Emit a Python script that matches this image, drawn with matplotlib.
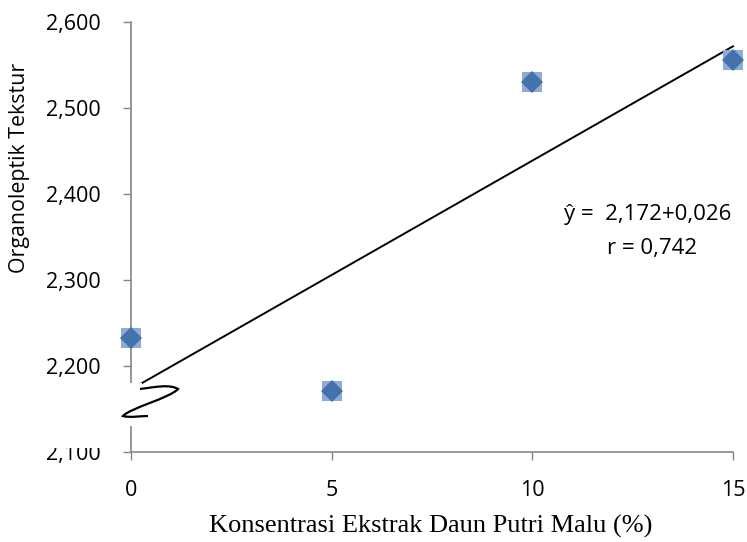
import matplotlib
matplotlib.use("Agg")
import matplotlib.pyplot as plt
import numpy as np
from matplotlib.path import Path
from matplotlib.patches import PathPatch, Rectangle
from matplotlib.transforms import Affine2D

# Data
konsentrasi = [0, 5, 10, 15]
tekstur = [2.232, 2.171, 2.530, 2.555]
yticks = [2.1, 2.2, 2.3, 2.4, 2.5, 2.6]
ytick_labels = ["2,100", "2,200", "2,300", "2,400", "2,500", "2,600"]
xticks = [0, 5, 10, 15]
eq_text = "ŷ =  2,172+0,026"
r_text = "r = 0,742"
xlabel = "Konsentrasi Ekstrak Daun Putri Malu (%)"
ylabel = "Organoleptik Tekstur"

W, H = 747, 542
fig = plt.figure(figsize=(W / 100, H / 100), dpi=100)
ax = fig.add_axes([131 / W, 1 - 452 / H, (733 - 131) / W, (452 - 21.5) / H])

sans = ["Open Sans", "DejaVu Sans"]
serif = ["Liberation Serif", "DejaVu Serif"]

ax.set_xlim(0, 15)
ax.set_ylim(2.1, 2.6)
ax.set_xticks(xticks)
ax.set_xticklabels([str(v) for v in xticks], fontfamily=sans, fontsize=15.5)
ax.set_yticks(yticks)
ax.set_yticklabels(ytick_labels, fontfamily=sans, fontsize=15.5)
ax.tick_params(axis="y", direction="out", length=6, width=1, color="#868686", pad=16)
ax.tick_params(axis="x", direction="out", length=6, width=1, color="#868686", pad=14)

for s in ["top", "right"]:
    ax.spines[s].set_visible(False)
for s in ["left", "bottom"]:
    ax.spines[s].set_color("#868686")
    ax.spines[s].set_linewidth(1.2)

# Trendline (least squares)
slope, intercept = np.polyfit(konsentrasi, tekstur, 1)
xl = np.array([0, 15])
ax.plot(xl, intercept + slope * xl, color="black", lw=1.4, zorder=3, clip_on=False)

# Markers
ax.plot(konsentrasi, tekstur, linestyle="none", marker="s", markersize=14.5,
        color="#8EAAD6", markeredgewidth=0, zorder=4, clip_on=False)
ax.plot(konsentrasi, tekstur, linestyle="none", marker="D", markersize=11,
        color="#4472AA", markeredgewidth=0, zorder=5, clip_on=False)

# Axis titles (pixel positions of the reference)
fig.text(431 / W, 1 - 526 / H, xlabel, fontfamily=serif, fontsize=19,
         ha="center", va="center")
fig.text(20 / W, 1 - 168 / H, ylabel, fontfamily=sans, fontsize=15.4,
         rotation=90, ha="center", va="center")

ax.text(12.88, 2.376, eq_text, fontsize=16, fontfamily=sans, ha="center", va="center")
ax.text(12.98, 2.336, r_text, fontsize=16, fontfamily=sans, ha="center", va="center")

# Axis break decoration (pixel coordinates of the figure)
pix = Affine2D().scale(1 / W, -1 / H).translate(0, 1) + fig.transFigure
fig.patches.append(Rectangle((118, 383), 24, 43, transform=pix, facecolor="white",
                             edgecolor="none", zorder=10))
verts = [(140, 389), (155, 387), (170, 384), (178, 389),
         (170, 398), (130, 408), (123, 416),
         (130, 418), (140, 416), (148, 416)]
codes = [Path.MOVETO, Path.CURVE4, Path.CURVE4, Path.CURVE4,
         Path.CURVE4, Path.CURVE4, Path.CURVE4,
         Path.CURVE4, Path.CURVE4, Path.CURVE4]
fig.patches.append(PathPatch(Path(verts, codes), transform=pix, facecolor="none",
                             edgecolor="black", lw=1.6, zorder=11))
# partially hidden lowest tick label as in the reference
fig.patches.append(Rectangle((40, 428), 80, 20, transform=pix, facecolor="white",
                             edgecolor="none", zorder=10))

fig.savefig("out.png", dpi=100)
